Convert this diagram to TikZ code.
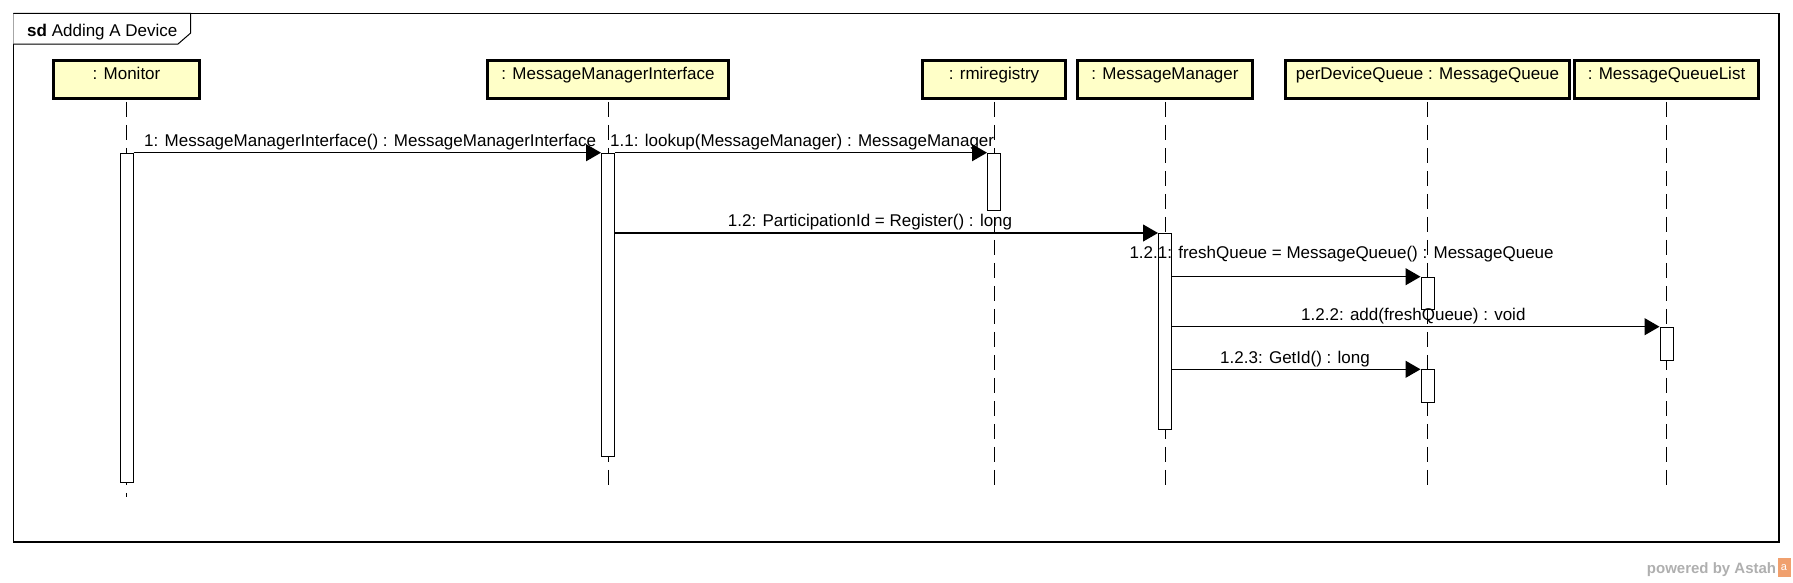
\documentclass[tikz,border=0pt]{standalone}
\usepackage{fontspec}
\setmainfont{Liberation Sans}
\usetikzlibrary{arrows.meta}
\definecolor{headfill}{RGB}{255,255,200}
\definecolor{pwgray}{RGB}{175,175,175}
\definecolor{astahorange}{RGB}{240,160,110}
\begin{document}
\begin{tikzpicture}[x=1pt,y=-1pt,
  head/.style={draw, line width=3pt, fill=headfill, minimum height=38pt, inner sep=0pt, text height=12pt, text depth=12pt, font=\fontsize{17}{20}\selectfont},
  act/.style={draw, line width=1pt, fill=white, minimum width=13pt, inner sep=0pt},
  life/.style={line width=1pt, dash pattern=on 15pt off 8pt},
  msg/.style={line width=1.1pt, -{Triangle[length=15pt,width=17pt]}},
  lbl/.style={anchor=base west, inner sep=0pt, font=\fontsize{17}{20}\selectfont}]
\useasboundingbox (0,0) rectangle (1793,582);
% frame
\draw[line width=1.3pt] (13.3,13.3) rectangle (1779,542);
\draw[line width=1pt, fill=white] (13.3,13.3) -- (190.7,13.3) -- (190.7,33) -- (178,44) -- (13.3,44);
\node[lbl] (title) at (27,36) {\textbf{sd} Adding A Device};
% heads
\node[head, minimum width=145.6pt] (mon) at (126.5,79.85) {: Monitor};
\node[head, minimum width=241pt] (mmi) at (608,79.85) {: MessageManagerInterface};
\node[head, minimum width=143pt] (rmi) at (994,79.85) {: rmiregistry};
\node[head, minimum width=175pt] (mm) at (1165,79.85) {: MessageManager};
\node[head, minimum width=284pt] (pdq) at (1427.5,79.85) {perDeviceQueue : MessageQueue};
\node[head, minimum width=184pt] (mql) at (1666.5,79.85) {: MessageQueueList};
% lifeline ends
\coordinate (monE) at (126.5,497);
\coordinate (mmiE) at (608,487);
\coordinate (rmiE) at (994,487);
\coordinate (mmE) at (1165,487);
\coordinate (pdqE) at (1427.5,487);
\coordinate (mqlE) at (1666.5,487);
\draw[life] ([yshift=-1.5pt]mon.south) -- (monE);
\draw[life] ([yshift=-1.5pt]mmi.south) -- (mmiE);
\draw[life] ([yshift=-1.5pt]rmi.south) -- (rmiE);
\draw[life] ([yshift=-1.5pt]mm.south) -- (mmE);
\draw[life] ([yshift=-1.5pt]pdq.south) -- (pdqE);
\draw[life] ([yshift=-1.5pt]mql.south) -- (mqlE);
% activations
\node[act, anchor=north, minimum height=329.3pt] (aMon) at (126.5,152.7) {};
\node[act, anchor=north, minimum height=303.3pt] (aMMI) at (608,152.7) {};
\node[act, anchor=north, minimum height=57.3pt] (aRmi) at (994,152.7) {};
\node[act, anchor=north, minimum height=196.3pt] (aMM) at (1165,233) {};
\node[act, anchor=north, minimum height=32.6pt] (aQ1) at (1427.5,276.7) {};
\node[act, anchor=north, minimum height=33.3pt] (aMQL) at (1666.5,326.7) {};
\node[act, anchor=north, minimum height=33pt] (aQ2) at (1427.5,369.3) {};
% messages
\draw[msg] (aMon.north east) -- (aMMI.north west);
\draw[msg] (aMMI.north east) -- (aRmi.north west);
\draw[msg] (aMMI.east |- aMM.north) -- (aMM.north west);
\draw[msg] (aMM.east |- aQ1.north) -- (aQ1.north west);
\draw[msg] (aMM.east |- aMQL.north) -- (aMQL.north west);
\draw[msg] (aMM.east |- aQ2.north) -- (aQ2.north west);
% labels
\node[lbl] (l1) at (144,146.7) {1: MessageManagerInterface() : MessageManagerInterface};
\node[lbl] (l11) at (610,146.7) {1.1: lookup(MessageManager) : MessageManager};
\node[lbl] (l12) at (727.7,226.5) {1.2: ParticipationId = Register() : long};
\node[lbl] (l121) at (1129.3,258.3) {1.2.1: freshQueue = MessageQueue() : MessageQueue};
\node[lbl] (l122) at (1301,320.7) {1.2.2: add(freshQueue) : void};
\node[lbl] (l123) at (1220,363.3) {1.2.3: GetId() : long};
% powered by
\node[anchor=base west, inner sep=0pt, text=pwgray, font=\bfseries\fontsize{15}{18}\selectfont] (pw) at (1646.7,573) {powered by Astah};
\node[anchor=west, fill=astahorange, minimum width=13pt, minimum height=19pt, inner sep=0pt, text=white, font=\fontsize{11}{12}\selectfont] (logo) at ([xshift=1pt,yshift=2pt]pw.east) {a};
\end{tikzpicture}
\end{document}
